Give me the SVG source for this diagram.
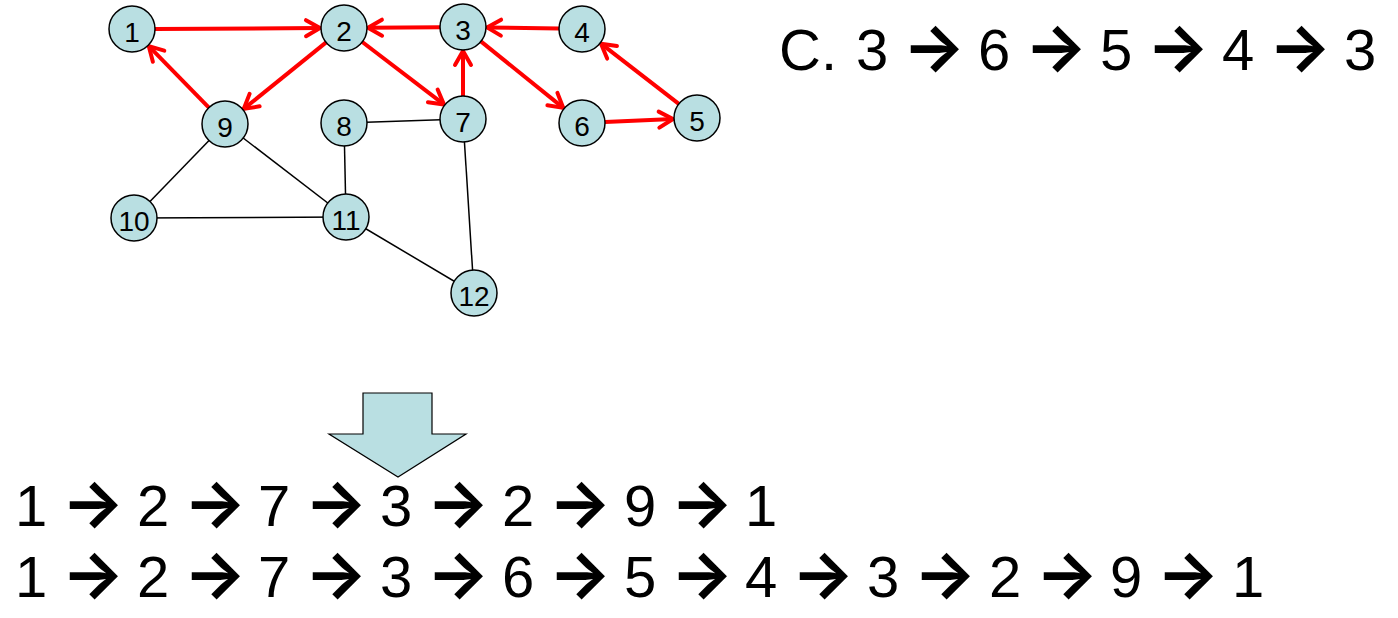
<svg xmlns="http://www.w3.org/2000/svg" width="1398" height="618" viewBox="0 0 1398 618">
<style>
.node circle{fill:#B9DFE2;stroke:#000;stroke-width:1.5}
.node text{font-family:"Liberation Sans",Arial,sans-serif;font-size:28px;text-anchor:middle;fill:#000}
.plain line{stroke:#000;stroke-width:1.5}
.red line{stroke:#FF0000;stroke-width:4;marker-end:url(#ah)}
.seq{font-family:"Liberation Sans",Arial,sans-serif;font-size:58px;fill:#000}
.ar{font-family:Inter,"DejaVu Sans",sans-serif;font-weight:bold;font-size:66px;text-anchor:middle}
</style>
<defs>
<marker id="ah" markerUnits="userSpaceOnUse" viewBox="0 0 20 20" markerWidth="20" markerHeight="20" refX="17" refY="10" orient="auto" overflow="visible">
<path d="M3,2 L17,10 L3,18" fill="none" stroke="#FF0000" stroke-width="4" stroke-linecap="round" stroke-linejoin="round"/>
</marker>
</defs>
<rect width="1398" height="618" fill="#fff"/>
<g id="connectors">
<g class="plain">
<line x1="225" y1="124" x2="134" y2="218"/>
<line x1="225" y1="124" x2="346" y2="217"/>
<line x1="134" y1="218" x2="346" y2="217"/>
<line x1="344" y1="123" x2="463" y2="119"/>
<line x1="344" y1="123" x2="346" y2="217"/>
<line x1="346" y1="217" x2="474" y2="293"/>
<line x1="463" y1="119" x2="474" y2="293"/>
</g>
<g class="red">
<line x1="155" y1="28.9" x2="320" y2="28.1"/>
<line x1="440" y1="27.2" x2="368" y2="27.8"/>
<line x1="559" y1="28.6" x2="487" y2="27.4"/>
<line x1="326.1" y1="42.4" x2="243.7" y2="108.9"/>
<line x1="208.9" y1="107.6" x2="148.8" y2="46.2"/>
<line x1="362.3" y1="42" x2="443.9" y2="104.4"/>
<line x1="463" y1="96" x2="463" y2="51"/>
<line x1="480.9" y1="41.4" x2="563.3" y2="107.9"/>
<line x1="605" y1="122" x2="673" y2="119"/>
<line x1="678.8" y1="103.9" x2="601" y2="43.7"/>
</g>
</g>
<g id="n1" class="node"><circle cx="132" cy="29" r="23"/><text x="132" y="42">1</text></g>
<g id="n2" class="node"><circle cx="344" cy="28" r="23"/><text x="344" y="41">2</text></g>
<g id="n3" class="node"><circle cx="463" cy="27" r="23"/><text x="463" y="40">3</text></g>
<g id="n4" class="node"><circle cx="582" cy="29" r="23"/><text x="582" y="42">4</text></g>
<g id="n5" class="node"><circle cx="697" cy="118" r="23"/><text x="697" y="131">5</text></g>
<g id="n6" class="node"><circle cx="582" cy="123" r="23"/><text x="582" y="136">6</text></g>
<g id="n7" class="node"><circle cx="463" cy="119" r="23"/><text x="463" y="132">7</text></g>
<g id="n8" class="node"><circle cx="344" cy="123" r="23"/><text x="344" y="136">8</text></g>
<g id="n9" class="node"><circle cx="225" cy="124" r="23"/><text x="225" y="137">9</text></g>
<g id="n10" class="node"><circle cx="134" cy="218" r="23"/><text x="134" y="231">10</text></g>
<g id="n11" class="node"><circle cx="346" cy="217" r="23"/><text x="346" y="230">11</text></g>
<g id="n12" class="node"><circle cx="474" cy="293" r="23"/><text x="474" y="306">12</text></g>
<g id="bigarrow">
<polygon points="363,393 432,393 432,434 466,434 398,477 329,434 363,434" fill="#B9DFE2" stroke="#000" stroke-width="1.2"/>
</g>
<g id="cycle">
<text class="seq" y="70"><tspan x="779">C.</tspan><tspan x="856">3</tspan><tspan class="ar" x="934">→</tspan><tspan x="978">6</tspan><tspan class="ar" x="1056">→</tspan><tspan x="1100">5</tspan><tspan class="ar" x="1178">→</tspan><tspan x="1222">4</tspan><tspan class="ar" x="1300">→</tspan><tspan x="1344">3</tspan></text>
</g>
<g id="path1">
<text class="seq" y="526"><tspan x="15">1</tspan><tspan class="ar" x="93">→</tspan><tspan x="137">2</tspan><tspan class="ar" x="215">→</tspan><tspan x="258">7</tspan><tspan class="ar" x="336">→</tspan><tspan x="380">3</tspan><tspan class="ar" x="458">→</tspan><tspan x="502">2</tspan><tspan class="ar" x="580">→</tspan><tspan x="624">9</tspan><tspan class="ar" x="702">→</tspan><tspan x="745">1</tspan></text>
</g>
<g id="path2">
<text class="seq" y="597"><tspan x="15">1</tspan><tspan class="ar" x="93">→</tspan><tspan x="137">2</tspan><tspan class="ar" x="215">→</tspan><tspan x="258">7</tspan><tspan class="ar" x="336">→</tspan><tspan x="380">3</tspan><tspan class="ar" x="458">→</tspan><tspan x="502">6</tspan><tspan class="ar" x="580">→</tspan><tspan x="624">5</tspan><tspan class="ar" x="702">→</tspan><tspan x="745">4</tspan><tspan class="ar" x="823">→</tspan><tspan x="867">3</tspan><tspan class="ar" x="945">→</tspan><tspan x="989">2</tspan><tspan class="ar" x="1067">→</tspan><tspan x="1110">9</tspan><tspan class="ar" x="1188">→</tspan><tspan x="1232">1</tspan></text>
</g>
</svg>
